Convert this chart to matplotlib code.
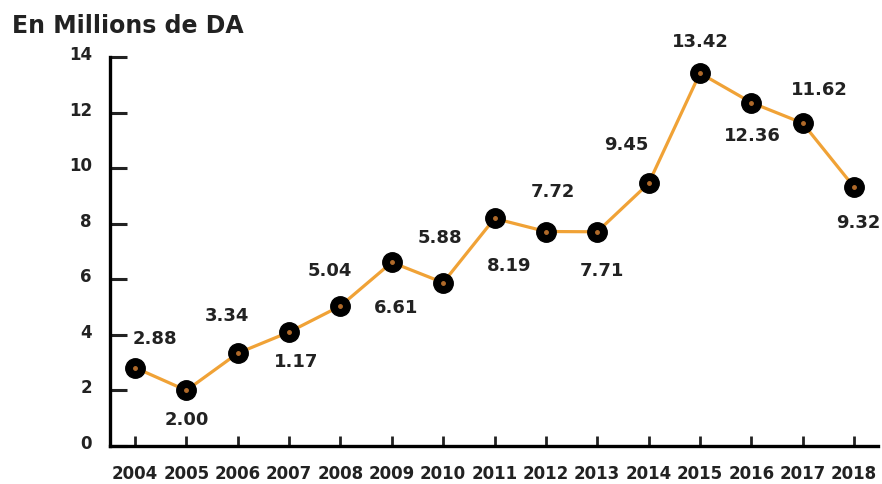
import matplotlib.pyplot as plt
import matplotlib.transforms as mtransforms

years = [2004, 2005, 2006, 2007, 2008, 2009, 2010, 2011, 2012, 2013, 2014, 2015, 2016, 2017, 2018]
values = [2.82, 2.00, 3.34, 4.10, 5.04, 6.61, 5.88, 8.19, 7.72, 7.71, 9.45, 13.42, 12.36, 11.62, 9.32]
labels = ["2.88", "2.00", "3.34", "1.17", "5.04", "6.61", "5.88", "8.19", "7.72", "7.71",
          "9.45", "13.42", "12.36", "11.62", "9.32"]
# label offsets in pixels (dx, dy) from each point
offs = [(20, 29), (0, -30), (-11, 37), (7, -30), (-11, 35), (4, -46), (-3, 45), (15, -48),
        (7, 40), (5, -39), (-22, 38), (0, 31), (1, -33), (17, 33), (4, -36)]

plt.rcParams['font.family'] = ['DejaVu Sans']
plt.rcParams['font.weight'] = 'bold'

fig = plt.figure(figsize=(8.82, 4.84), dpi=100)
ax = fig.add_axes([0.1247, 0.0785, 0.8708, 0.8037])

orange = '#F0A236'
ax.plot(years, values, color=orange, lw=2.3, zorder=2)
ax.plot(years, values, 'o', ms=14, color='black', zorder=3)
ax.plot(years, values, 'o', ms=2.5, color='#B06A2A', zorder=4)

for x, v, t, (dx, dy) in zip(years, values, labels, offs):
    ax.annotate(t, (x, v), xytext=(dx, dy), textcoords='offset pixels',
                ha='center', va='center', fontsize=13, fontweight='bold', color='#222222')

ax.set_xlim(2004 - 0.487, 2018 + 0.467)
ax.set_ylim(0, 14)
ax.set_xticks(years)
ax.set_yticks(range(0, 15, 2))
for s in ['top', 'right']:
    ax.spines[s].set_visible(False)
for s in ['left', 'bottom']:
    ax.spines[s].set_linewidth(2.4)
ax.tick_params(axis='y', direction='in', length=12, width=2.2, labelsize=12, pad=13, colors='#222222')
ax.tick_params(axis='x', direction='in', length=7, width=2, labelsize=12, pad=14, colors='#222222')
shift = mtransforms.ScaledTranslation(0, 4 / 100, fig.dpi_scale_trans)
for lab in ax.get_yticklabels():
    lab.set_transform(lab.get_transform() + shift)
for lab in ax.get_xticklabels() + ax.get_yticklabels():
    lab.set_fontweight('bold')
for l in ax.lines:
    l.set_clip_on(False)

fig.text(0.0136, 0.932, "En Millions de DA", fontsize=17, fontweight='bold', color='#222222',
         ha='left', va='baseline')

fig.savefig("out.png", dpi=100)
